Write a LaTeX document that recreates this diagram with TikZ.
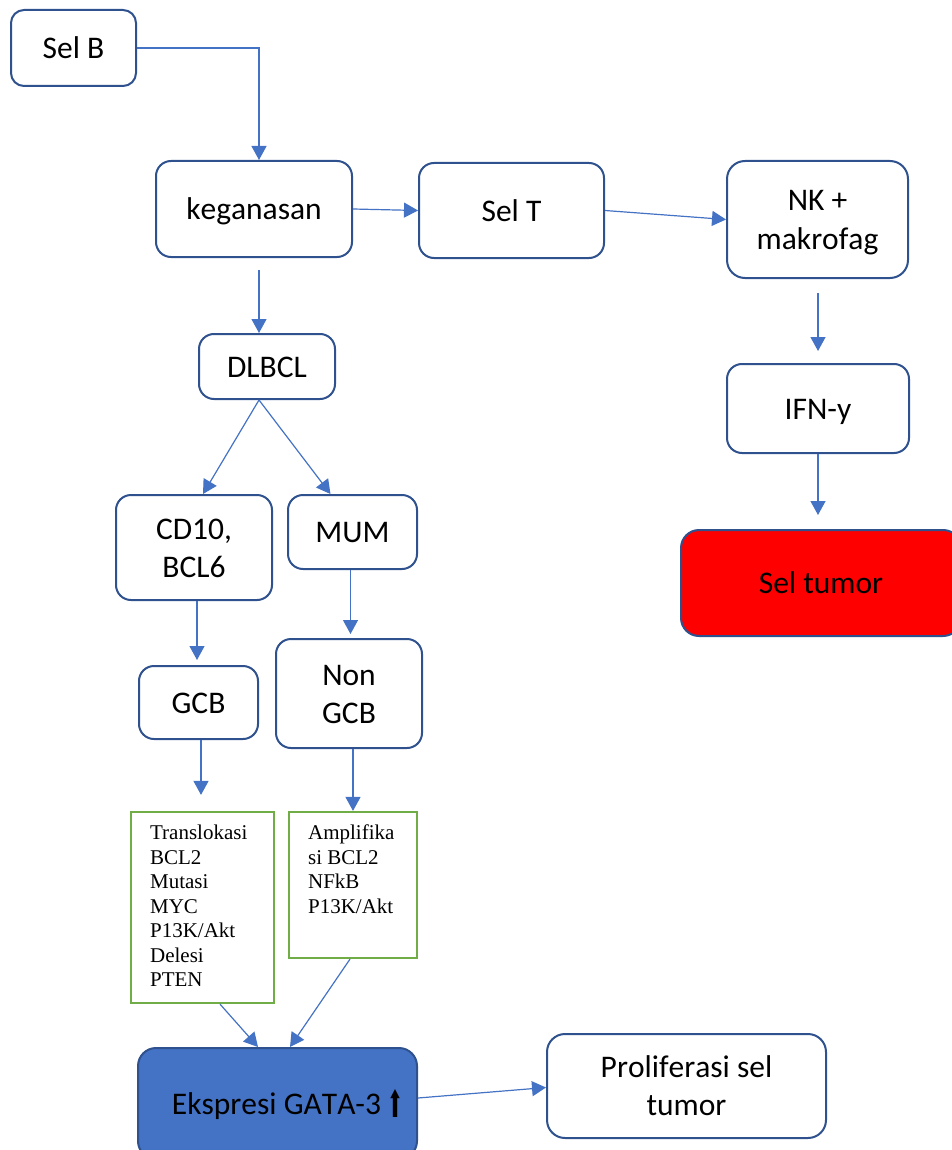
\documentclass[tikz,border=0pt]{standalone}
\usepackage{fontspec}
\setmainfont{Carlito}[Kerning=Off]
\newfontfamily\timesfont{Liberation Serif}
\newfontfamily\symfont{DejaVu Sans}
\usepackage{graphicx}
\usetikzlibrary{arrows.meta, positioning}
\definecolor{boxline}{HTML}{2F528F}
\definecolor{arrowblue}{HTML}{4472C4}
\definecolor{genegreen}{HTML}{70AD47}
\definecolor{tumorred}{HTML}{FF0000}
% line box of one line of box text
\newcommand{\lb}{\rule[-8.5pt]{0pt}{38.4pt}}

\begin{document}
\begin{tikzpicture}[x=1pt, y=-1pt,
  every node/.style={font=\fontsize{31.5}{38.4}\selectfont, align=center},
  >={Triangle[length=14pt, width=15pt]},
  flowbox/.style={draw=boxline, line width=2pt, rounded corners=15pt, fill=white, inner sep=0pt},
  genebox/.style={draw=genegreen, line width=2.2pt, inner sep=0pt},
  genetext/.style={font=\timesfont\fontsize{21}{24.5}\selectfont, align=left, inner xsep=20pt, inner ysep=14pt, anchor=north west},
  flow/.style={->, color=arrowblue, line width=1.2pt}]
  \useasboundingbox (0,0) rectangle (952,1150);

  % top row: B cell, malignancy, T cell, NK
  \node[flowbox, minimum width=125pt, minimum height=76pt, rounded corners=13pt] (selb) at (73.5,48) {\lb Sel B};
  \node[flowbox, minimum width=196pt, minimum height=96pt] (kegan) at (254,209) {\lb keganasan};
  \node[flowbox, minimum width=185pt, minimum height=95pt] (selt) at (511.5,210.5) {\lb Sel T};
  \node[flowbox, minimum width=181pt, minimum height=117pt, rounded corners=18pt] (nk) at (817.5,219.5) {\lb NK +\\makrofag\lb};

  % right branch
  \node[flowbox, minimum width=182pt, minimum height=89pt] (ifn) at (818,408.5) {\lb IFN-y};
  \node[flowbox, fill=tumorred, minimum width=280pt, minimum height=106pt, rounded corners=18pt] (tumor) at (821,583) {\lb Sel tumor};

  % left branch: subtypes
  \node[flowbox, minimum width=136pt, minimum height=65pt] (dlbcl) at (267,366.5) {\lb DLBCL};
  \node[flowbox, minimum width=156pt, minimum height=105pt] (cd10) at (194,547.5) {\lb CD10,\\BCL6\lb};
  \node[flowbox, minimum width=129pt, minimum height=74pt] (mum) at (352.5,532) {\lb MUM};
  \node[flowbox, minimum width=119pt, minimum height=73pt] (gcb) at (198.5,702.5) {\lb GCB};
  \node[flowbox, minimum width=146pt, minimum height=109pt] (nongcb) at (349,693.5) {\lb Non\\GCB\lb};

  % genetic changes
  \node[genebox, minimum width=143pt, minimum height=191pt] (gen1) at (202.5,907.5) {};
  \node[genetext] (gen1txt) at (gen1.north west) {Translokasi\\BCL2\\Mutasi\\MYC\\P13K/Akt\\Delesi\\PTEN};
  \node[genebox, minimum width=128pt, minimum height=146pt] (gen2) at (353,885) {};
  \node[genetext] (gen2txt) at (gen2.north west) {Amplifika\\si BCL2\\NFkB\\P13K/Akt};

  % outcome
  \node[flowbox, fill=arrowblue, minimum width=279pt, minimum height=111pt, rounded corners=18pt] (eksp) at (277.5,1103.5) {\hspace{20pt}\lb Ekspresi GATA-3\hspace{6pt}\raisebox{-3pt}{\resizebox*{16pt}{28pt}{\symfont ⬆}}};
  \node[flowbox, minimum width=279pt, minimum height=104pt, rounded corners=18pt] (prolif) at (686.5,1086) {\lb Proliferasi sel\\tumor\lb};

  \draw[flow] (selb.east) -| ([xshift=5pt]kegan.north);
  \draw[flow] (kegan.east) -- (selt.west);
  \draw[flow] (selt.east) -- (nk.west);
  \draw[flow, shorten <=12pt] ([xshift=5pt]kegan.south) -- ([xshift=-8pt]dlbcl.north);
  \draw[flow] ([xshift=-8pt]dlbcl.south) -- ([xshift=9pt]cd10.north);
  \draw[flow] ([xshift=-8pt]dlbcl.south) -- ([xshift=-22pt]mum.north);
  \draw[flow, shorten <=14pt, shorten >=12pt] ([xshift=0.5pt]nk.south) -- (ifn.north);
  \draw[flow, shorten >=14pt] (ifn.south) -- ([xshift=-3pt]tumor.north);
  \draw[flow, shorten >=5pt] ([xshift=3pt]cd10.south) -- ([xshift=-1.5pt]gcb.north);
  \draw[flow, shorten >=4pt] ([xshift=-2pt]mum.south) -- ([xshift=1.5pt]nongcb.north);
  \draw[flow, shorten >=16pt] ([xshift=2.5pt]gcb.south) -- ([xshift=-1.5pt]gen1.north);
  \draw[flow] ([xshift=4pt]nongcb.south) -- (gen2.north);
  \draw[flow] ([xshift=17.5pt]gen1.south) -- ([xshift=-19.5pt]eksp.north);
  \draw[flow] ([xshift=-3pt]gen2.south) -- ([xshift=12.5pt]eksp.north);
  \draw[flow] ([yshift=5.5pt]eksp.east) -- ([yshift=-1.5pt]prolif.west);
\end{tikzpicture}
\end{document}
